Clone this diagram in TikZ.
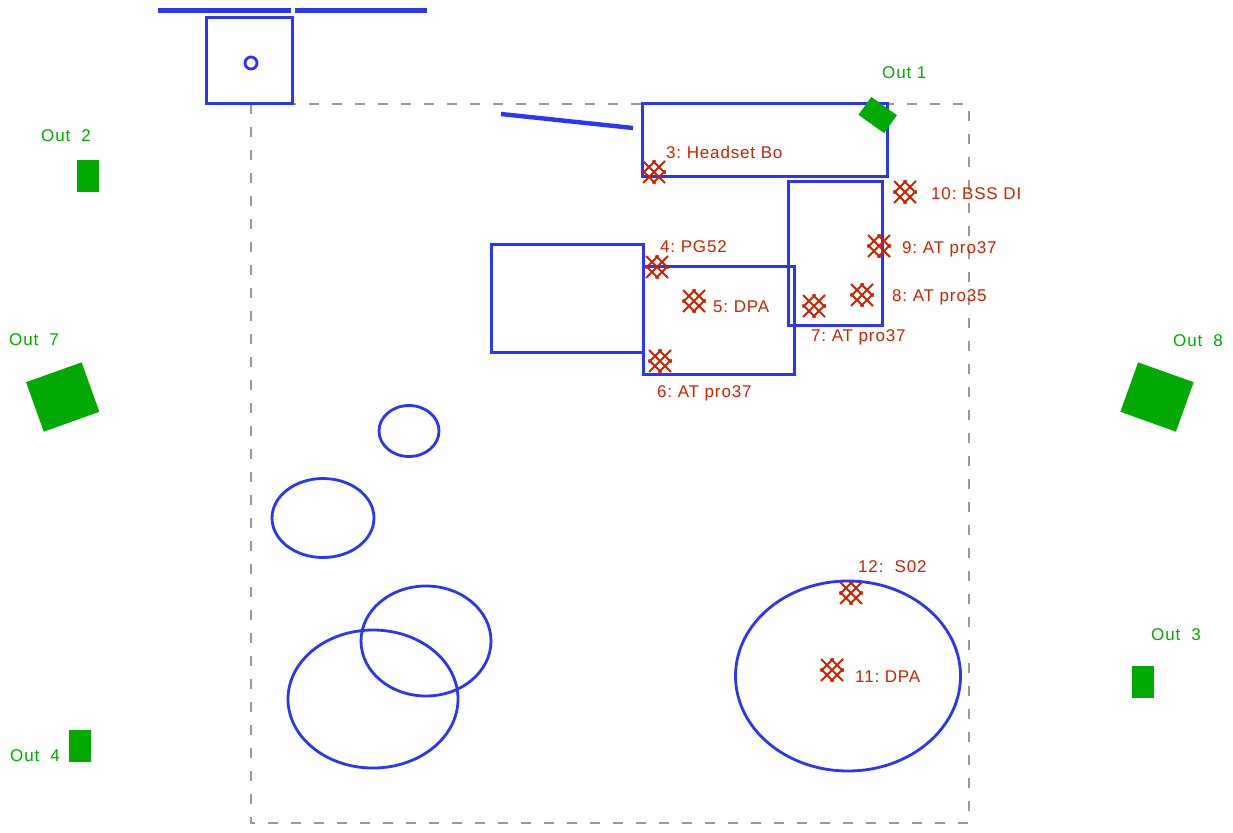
\documentclass[tikz,border=0pt]{standalone}
\usepackage{fontspec}
\setmainfont[LetterSpace=5]{Liberation Sans}
\definecolor{planblue}{HTML}{2A35F5}
\definecolor{micred}{HTML}{CC2200}
\definecolor{outgreen}{HTML}{00AA00}
\definecolor{roomgray}{HTML}{999999}
\tikzset{
	plan/.style={draw=planblue,line width=2.8pt},
	box/.style={draw=planblue,line width=3pt},
	bar/.style={draw=planblue,line width=4.4pt},
	room/.style={draw=roomgray,line width=2.8pt,dash pattern=on 10pt off 13pt},
	speaker/.style={rectangle,fill=outgreen,inner sep=0pt},
	outlabel/.style={text=outgreen,font=\fontsize{17}{19}\selectfont\frenchspacing,inner sep=0pt,anchor=west,text height=12pt,text depth=0pt},
	miclabel/.style={text=micred,font=\fontsize{17}{19}\selectfont\frenchspacing,inner sep=0pt,anchor=west,text height=12pt,text depth=0pt},
	micmark/.pic={
		\draw[draw=micred,line width=2pt]
		(-11,-11) -- (11,11) (-11.5,-1.5) -- (1.5,11.5) (-1.5,-11.5) -- (11.5,1.5)
		(-11,11) -- (11,-11) (-11.5,1.5) -- (1.5,-11.5) (-1.5,11.5) -- (11.5,-1.5);
	},
}
\begin{document}
\begin{tikzpicture}[x=1pt,y=-1pt]
	\useasboundingbox (0,0) rectangle (1233,832);
	% room outline
	\draw[room] (251,104) rectangle (969,823);
	% stage furniture
	\draw[bar] (158,10.5) -- (291,10.5);
	\draw[bar] (295,10.5) -- (427,10.5);
	\draw[bar] (501,114) -- (633,128);
	\draw[box] (206,18) rectangle (292,104);
	\draw[plan] (251,63) circle (6);
	\draw[box] (642,104) rectangle (887,176);
	\draw[box] (788,181) rectangle (882,325);
	\draw[box] (491,244) rectangle (643,352);
	\draw[box] (643,266) rectangle (794,374);
	\draw[plan] (409,431) ellipse (30 and 25.5);
	\draw[plan] (323,518) ellipse (51 and 39.5);
	\draw[plan] (426,641) ellipse (65 and 55);
	\draw[plan] (373,699) ellipse (85 and 69);
	\draw[plan] (848,676) ellipse (112.5 and 95);
	% outputs
	\node[speaker,minimum width=31.5pt,minimum height=22pt,rotate=-35.6] (S1) at (877.7,115) {};
	\node[speaker,minimum width=22pt,minimum height=32pt] (S2) at (88,176) {};
	\node[speaker,minimum width=22pt,minimum height=32pt] (S3) at (1143,682) {};
	\node[speaker,minimum width=22pt,minimum height=32pt] (S4) at (80,746) {};
	\node[speaker,minimum width=59pt,minimum height=52.5pt,rotate=19.7] (S7) at (62.7,397) {};
	\node[speaker,minimum width=59pt,minimum height=52.5pt,rotate=-19.7] (S8) at (1157,397) {};
	\node[outlabel] (O1) at (882,73) {Out 1};
	\node[outlabel] (O2) at (41,136) {Out\ \ 2};
	\node[outlabel] (O3) at (1151,634) {Out\ \ 3};
	\node[outlabel] (O4) at (10,755) {Out\ \ 4};
	\node[outlabel] (O7) at (9,339) {Out\ \ 7};
	\node[outlabel] (O8) at (1173,340) {Out\ \ 8};
	% microphones
	\foreach \px/\py in {654/172,657/267,694/301,660/361,814/306,862/295,879/246,905/192,832/670,851/593}
		\pic at (\px,\py) {micmark};
	\node[miclabel] (M3) at (666,152) {3: Headset Bo};
	\node[miclabel] (M4) at (660,246) {4: PG52};
	\node[miclabel] (M5) at (713,306) {5: DPA};
	\node[miclabel] (M6) at (657,391) {6: AT pro37};
	\node[miclabel] (M7) at (811,335) {7: AT pro37};
	\node[miclabel] (M8) at (892,295) {8: AT pro35};
	\node[miclabel] (M9) at (902,247) {9: AT pro37};
	\node[miclabel] (M10) at (931,193) {10: BSS DI};
	\node[miclabel] (M11) at (855,676) {11: DPA};
	\node[miclabel] (M12) at (858,566) {12:\ \ S02};
\end{tikzpicture}
\end{document}
